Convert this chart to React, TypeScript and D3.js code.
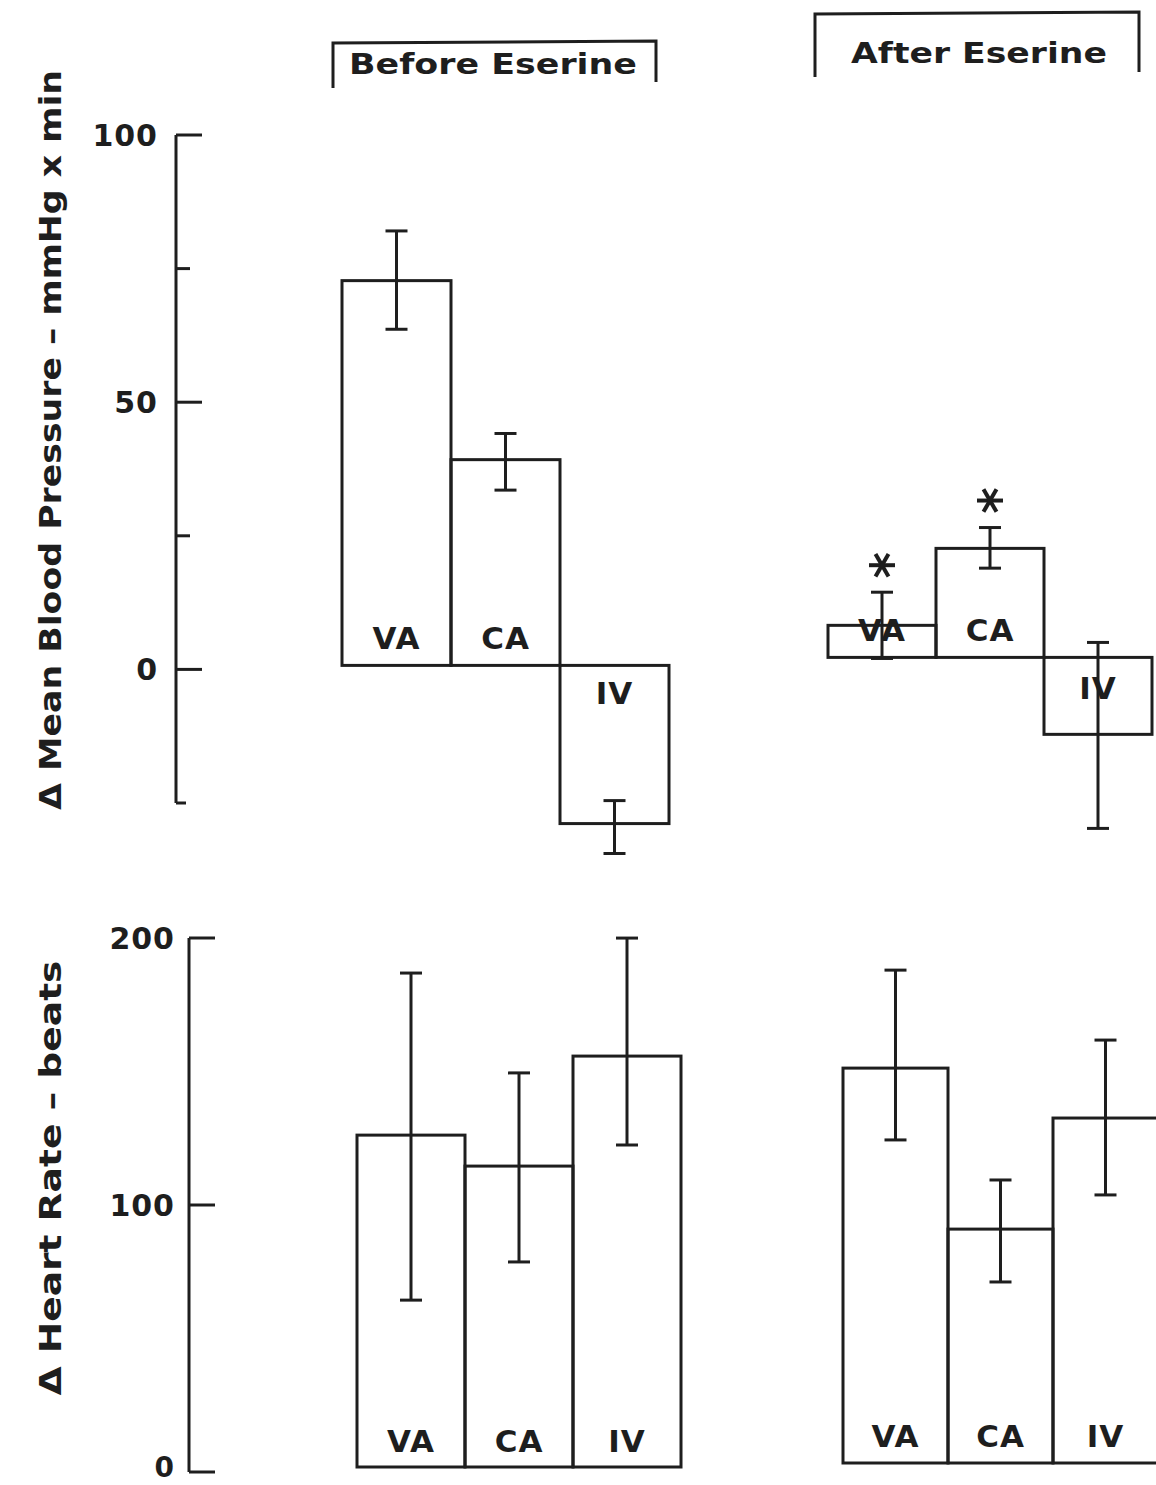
import React from "react";
import * as d3 from "d3";

// ---------- data ----------
const categories = ["VA", "CA", "IV"];

// Δ Mean Blood Pressure (mmHg x min)
const bpBeforeMean = [72.0, 38.5, -29.6];
const bpBeforeHi = [81.3, 43.4, -25.3];
const bpBeforeLo = [62.9, 32.8, -35.2];

const bpAfterMean = [6.0, 20.4, -14.4];
const bpAfterHi = [12.2, 24.3, 2.8];
const bpAfterLo = [-0.2, 16.7, -32.0];
const bpAfterSignificant = [true, true, false];

// Δ Heart Rate (beats)
const hrBeforeMean = [124.3, 112.7, 153.9];
const hrBeforeHi = [185.0, 147.6, 198.1];
const hrBeforeLo = [62.5, 76.8, 120.6];

const hrAfterMean = [147.9, 87.6, 129.2];
const hrAfterHi = [184.6, 106.0, 158.4];
const hrAfterLo = [121.0, 67.8, 100.4];

const bpMajorTicks = [0, 50, 100];
const bpMinorTicks = [25, 75];
const bpDomain = [-25, 100];
const hrTicks = [0, 100, 200];
const hrDomain = [0, 200];

const groupTitles = ["Before Eserine", "After Eserine"];
const bpTitle = "Δ Mean Blood Pressure – mmHg x min";
const hrTitle = "Δ Heart Rate – beats";

// ---------- styles ----------
const INK = "#1e1e1e";
const FONT = "'DejaVu Sans', 'Liberation Sans', Arial, sans-serif";
const SW = 3;

const yBp = d3.scaleLinear().domain(bpDomain).range([803, 135]);
const yHr = d3.scaleLinear().domain(hrDomain).range([1472, 938]);

type Group = {
  mean: number[];
  hi: number[];
  lo: number[];
  x0: number;
  x1: number;
  shift: number;
  star?: boolean[];
  posLabelDy: number;
  negLabelDy: number;
};

function Asterisk({ cx, cy, r }: { cx: number; cy: number; r: number }) {
  const angles = [0, 60, 120];
  return (
    <g stroke={INK} strokeWidth={4} strokeLinecap="butt">
      {angles.map((a) => {
        const rad = (a * Math.PI) / 180;
        return (
          <line
            key={a}
            x1={cx - r * Math.cos(rad)}
            y1={cy - r * Math.sin(rad)}
            x2={cx + r * Math.cos(rad)}
            y2={cy + r * Math.sin(rad)}
          />
        );
      })}
    </g>
  );
}

function Bars({ g, y }: { g: Group; y: d3.ScaleLinear<number, number> }) {
  const x = d3.scaleBand<string>().domain(categories).range([g.x0, g.x1]).paddingInner(0).paddingOuter(0);
  const base = y(0) + g.shift;
  const yy = (v: number) => y(v) + g.shift;
  const cap = 11;
  return (
    <g>
      {categories.map((c, i) => {
        const v = g.mean[i];
        const top = Math.min(yy(v), base);
        const h = Math.abs(yy(v) - base);
        const bx = x(c)!;
        const bw = x.bandwidth();
        const cx = bx + bw / 2;
        const labelY = v >= 0 ? base + g.posLabelDy : base + g.negLabelDy;
        return (
          <g key={c}>
            <rect x={bx} y={top} width={bw} height={h} fill="none" stroke={INK} strokeWidth={SW} />
            <text
              x={cx}
              y={labelY}
              textAnchor="middle"
              fontFamily={FONT}
              fontWeight="bold"
              fontSize={31}
              letterSpacing={1}
              fill={INK}
            >
              {c}
            </text>
            <line x1={cx} x2={cx} y1={yy(g.hi[i])} y2={yy(g.lo[i])} stroke={INK} strokeWidth={SW} />
            <line x1={cx - cap} x2={cx + cap} y1={yy(g.hi[i])} y2={yy(g.hi[i])} stroke={INK} strokeWidth={SW} />
            <line x1={cx - cap} x2={cx + cap} y1={yy(g.lo[i])} y2={yy(g.lo[i])} stroke={INK} strokeWidth={SW} />
            {g.star && g.star[i] ? <Asterisk cx={cx} cy={yy(g.hi[i]) - 27} r={13} /> : null}
          </g>
        );
      })}
    </g>
  );
}

export default function App() {
  const bpBefore: Group = {
    mean: bpBeforeMean, hi: bpBeforeHi, lo: bpBeforeLo,
    x0: 342, x1: 669, shift: -4, posLabelDy: -16, negLabelDy: 39,
  };
  const bpAfter: Group = {
    mean: bpAfterMean, hi: bpAfterHi, lo: bpAfterLo,
    x0: 828, x1: 1152, shift: -12, star: bpAfterSignificant, posLabelDy: -16, negLabelDy: 42,
  };
  const hrBefore: Group = {
    mean: hrBeforeMean, hi: hrBeforeHi, lo: hrBeforeLo,
    x0: 357, x1: 681, shift: -5, posLabelDy: -15, negLabelDy: 40,
  };
  const hrAfter: Group = {
    mean: hrAfterMean, hi: hrAfterHi, lo: hrAfterLo,
    x0: 843, x1: 1158, shift: -9, posLabelDy: -16, negLabelDy: 40,
  };

  const bpAxisX = 176;
  const hrAxisX = 189;

  return (
    <svg
      width={1156}
      height={1485}
      viewBox="0 0 1156 1485"
      style={{ position: "absolute", left: 0, top: 0, background: "#fff" }}
    >
      <rect x={0} y={0} width={1156} height={1485} fill="#fff" />

      {/* group brackets */}
      <g fill="none" stroke={INK} strokeWidth={SW}>
        <polyline points="333,88 333,43 656,41 656,82" />
        <polyline points="815,77 815,14 1139,12 1139,72" />
      </g>
      <text x={349} y={74} fontFamily={FONT} fontWeight="bold" fontSize={29} fill={INK}
        textLength={288} lengthAdjust="spacingAndGlyphs">{groupTitles[0]}</text>
      <text x={851} y={63} fontFamily={FONT} fontWeight="bold" fontSize={29} fill={INK}
        textLength={256} lengthAdjust="spacingAndGlyphs">{groupTitles[1]}</text>

      {/* BP axis */}
      <g stroke={INK} strokeWidth={SW}>
        <line x1={bpAxisX} x2={bpAxisX} y1={yBp(bpDomain[1])} y2={yBp(bpDomain[0])} />
        {bpMajorTicks.map((t) => (
          <line key={t} x1={bpAxisX} x2={bpAxisX + 26} y1={yBp(t)} y2={yBp(t)} />
        ))}
        {bpMinorTicks.map((t) => (
          <line key={t} x1={bpAxisX} x2={bpAxisX + 14} y1={yBp(t)} y2={yBp(t)} />
        ))}
        <line x1={bpAxisX} x2={bpAxisX + 10} y1={yBp(bpDomain[0])} y2={yBp(bpDomain[0])} />
      </g>
      {bpMajorTicks.map((t) => (
        <text key={t} x={158} y={yBp(t) + 11} textAnchor="end" fontFamily={FONT} fontWeight="bold"
          fontSize={30} letterSpacing={1} fill={INK}>{t}</text>
      ))}
      <text transform="translate(61,440) rotate(-90)" textAnchor="middle" fontFamily={FONT}
        fontWeight="bold" fontSize={30} fill={INK} textLength={740} lengthAdjust="spacingAndGlyphs">{bpTitle}</text>

      {/* HR axis */}
      <g stroke={INK} strokeWidth={SW}>
        <line x1={hrAxisX} x2={hrAxisX} y1={yHr(hrDomain[1])} y2={yHr(hrDomain[0])} />
        {hrTicks.map((t) => (
          <line key={t} x1={hrAxisX} x2={hrAxisX + 26} y1={yHr(t)} y2={yHr(t)} />
        ))}
      </g>
      {hrTicks.map((t) => (
        <text key={t} x={175} y={t === 0 ? yHr(t) + 5 : yHr(t) + 11} textAnchor="end" fontFamily={FONT}
          fontWeight="bold" fontSize={t === 0 ? 28 : 30} letterSpacing={1} fill={INK}>{t}</text>
      ))}
      <text transform="translate(61,1178) rotate(-90)" textAnchor="middle" fontFamily={FONT}
        fontWeight="bold" fontSize={30} fill={INK} textLength={435} lengthAdjust="spacingAndGlyphs">{hrTitle}</text>

      <Bars g={bpBefore} y={yBp} />
      <Bars g={bpAfter} y={yBp} />
      <Bars g={hrBefore} y={yHr} />
      <Bars g={hrAfter} y={yHr} />
    </svg>
  );
}
